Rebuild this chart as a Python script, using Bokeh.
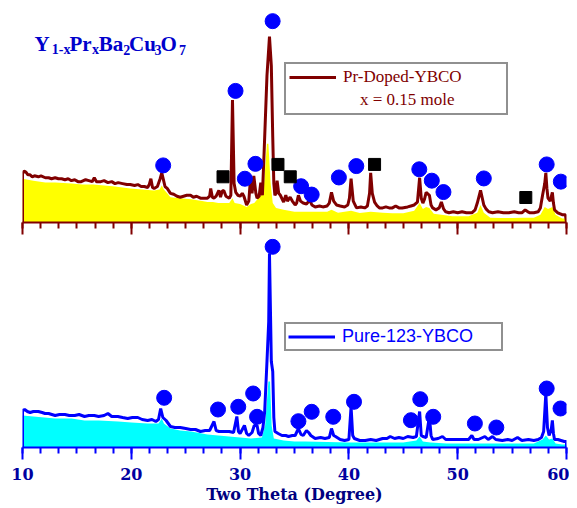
from bokeh.plotting import figure
from bokeh.layouts import column
from bokeh.models import (Range1d, SingleIntervalTicker, Legend, LegendItem, Label,
                          CustomLabelingPolicy)
from bokeh.embed import file_html
from bokeh.resources import INLINE

# ---------------- data (2-theta in degrees, intensity in arbitrary units) ----------------
doped_x = [10.0, 10.0, 10.15, 10.3, 10.5, 10.7, 10.9, 11.1, 11.46, 11.7, 12.1, 12.4, 12.67, 13.0, 13.3,
           13.6, 13.9, 14.2, 14.5, 14.8, 15.1, 15.4, 15.8, 16.1, 16.4, 16.6, 16.8, 17.2, 17.5, 17.85,
           18.2, 18.5, 18.8, 19.2, 19.6, 19.9, 20.3, 20.6, 20.9, 21.2, 21.5, 21.65, 21.8, 21.95, 22.1,
           22.4, 22.65, 22.8, 22.95, 23.1, 23.3, 23.6, 23.9, 24.2, 24.5, 24.8, 25.1, 25.45, 25.7, 26.0,
           26.36, 26.7, 27.0, 27.2, 27.3, 27.45, 27.6, 27.8, 28.05, 28.2, 28.35, 28.5, 28.7, 29.0, 29.15,
           29.3, 29.45, 29.6, 29.8, 30.0, 30.2, 30.35, 30.6, 30.8, 30.96, 31.1, 31.26, 31.45, 31.56, 31.75,
           31.9, 32.05, 32.2, 32.47, 32.7, 32.87, 33.0, 33.1, 33.2, 33.3, 33.4, 33.55, 33.7, 34.0, 34.2,
           34.35, 34.6, 34.8, 35.06, 35.2, 35.36, 35.55, 35.8, 36.1, 36.4, 36.6, 36.9, 37.3, 37.6, 38.0,
           38.2, 38.4, 38.6, 38.86, 39.2, 39.6, 39.9, 40.05, 40.2, 40.4, 40.7, 41.1, 41.45, 41.7, 41.9,
           42.0, 42.15, 42.36, 42.6, 42.8, 43.1, 43.4, 43.7, 44.0, 44.3, 44.6, 44.9, 45.4, 45.7, 46.0,
           46.3, 46.5, 46.65, 46.8, 46.95, 47.1, 47.4, 47.55, 47.7, 48.0, 48.3, 48.5, 48.7, 48.9, 49.2,
           49.6, 50.0, 50.4, 50.8, 51.3, 51.6, 51.8, 52.1, 52.4, 52.6, 52.86, 53.2, 53.7, 54.2, 54.7,
           55.2, 55.6, 55.9, 56.2, 56.45, 56.65, 57.0, 57.4, 57.6, 57.8, 58.0, 58.1, 58.2, 58.3, 58.5,
           58.7, 58.8, 58.9, 59.2, 59.6, 59.9, 60.0]
doped_y = [0, 50, 53, 52, 49, 49, 47, 48, 47, 48, 46, 46, 45, 46, 45,
           45, 44, 45, 43, 44, 42, 42, 44, 43, 42, 46, 42, 42, 43, 41,
           42, 40, 41, 40, 39, 39, 38, 39, 37, 37, 36, 39, 45, 36, 35,
           37, 45, 51, 44, 37, 35, 30, 29, 27, 26, 27, 28, 28, 26, 27,
           25, 25, 25, 27, 35, 26, 25, 27, 33, 26, 32, 33, 27, 25, 28,
           126, 40, 31, 28, 27, 30, 27, 18, 22, 46, 30, 48, 30, 25, 27,
           41, 28, 70, 151, 191, 161, 88, 40, 28, 30, 43, 30, 28, 21, 28,
           22, 26, 22, 18, 20, 28, 22, 20, 19, 23, 18, 16, 17, 16, 17,
           20, 31, 22, 18, 17, 16, 18, 25, 45, 22, 15, 16, 15, 17, 30,
           51, 30, 21, 17, 15, 15, 16, 15, 15, 17, 15, 15, 16, 17, 18,
           21, 46, 25, 20, 24, 31, 28, 18, 15, 13, 15, 21, 14, 11, 10,
           11, 10, 11, 10, 10, 13, 20, 33, 18, 14, 11, 10, 11, 10, 10,
           11, 10, 10, 13, 11, 10, 10, 11, 15, 28, 40, 51, 35, 25, 22,
           31, 20, 13, 10, 8, 8, 0]

doped_fill_x = [10.0, 10.5, 11.0, 12.1, 13.0, 14.5, 15.5, 16.5, 17.5, 18.5, 19.9, 21.0, 22.1, 22.6, 22.8,
                23.0, 23.3, 23.6, 24.5, 25.5, 26.5, 27.0, 27.5, 28.0, 28.5, 29.0, 29.3, 29.5, 30.0, 30.6,
                31.0, 31.3, 31.9, 32.2, 32.47, 32.6, 32.8, 33.0, 33.3, 34.0, 35.0, 36.0, 37.0, 38.0, 38.4,
                39.0, 40.2, 41.0, 42.0, 43.1, 44.0, 45.0, 46.0, 46.5, 46.8, 47.1, 47.4, 47.8, 48.5, 49.5,
                51.0, 51.8, 52.1, 52.4, 53.0, 54.0, 55.0, 56.0, 57.0, 57.6, 58.0, 58.3, 58.7, 59.0, 59.6,
                60.0]
doped_fill_y = [45, 44, 43, 41, 41, 40, 39, 39, 38, 37, 35, 34, 33, 34, 38,
                34, 30, 26, 25, 24, 22, 21, 21, 20, 20, 20, 25, 20, 19, 16,
                19, 20, 28, 40, 81, 81, 41, 20, 15, 13, 11, 11, 11, 11, 13,
                10, 12, 9.7, 11, 10, 9.5, 9.5, 12, 20, 14, 16, 15, 9, 8, 6.3,
                6.3, 10, 18, 10, 5, 4.7, 4.7, 5, 5, 8, 16, 14, 16, 8, 4,
                4]

doped_circle_x = [22.93, 29.58, 30.44, 31.41, 32.99, 35.61, 36.58, 39.08, 40.68, 46.47, 47.62, 48.69,
                  52.4, 58.18, 59.48]
doped_circle_y = [58.7, 135.3, 45, 60.3, 207, 37.3, 28.7, 46.3, 58, 54.7, 43, 31.3,
                  45.3, 59.7, 42]
doped_square_x = [28.43, 33.48, 34.61, 42.36, 56.26]
doped_square_y = [47, 59.7, 47, 59.7, 25.7]

pure_x = [10.0, 10.0, 10.2, 10.45, 10.7, 11.0, 11.46, 11.8, 12.07, 12.4, 13.0, 13.4, 13.9, 14.3, 14.8,
          15.2, 15.7, 16.1, 16.6, 17.0, 17.5, 17.85, 18.2, 18.76, 19.2, 19.67, 20.1, 20.6, 21.0, 21.5,
          21.9, 22.25, 22.5, 22.7, 22.9, 23.2, 23.6, 24.0, 24.5, 25.0, 25.45, 25.9, 26.36, 26.8, 27.2,
          27.6, 27.8, 28.06, 28.5, 29.0, 29.4, 29.7, 29.85, 30.0, 30.4, 30.6, 30.8, 31.1, 31.3, 31.56,
          31.7, 31.9, 32.1, 32.26, 32.47, 32.63, 32.7, 32.8, 32.87, 33.0, 33.1, 33.2, 33.5, 33.85, 34.2,
          34.45, 34.8, 35.06, 35.36, 35.6, 35.8, 36.1, 36.3, 36.5, 36.9, 37.4, 37.8, 38.2, 38.4, 38.6,
          38.77, 39.2, 39.6, 40.0, 40.2, 40.35, 40.5, 41.0, 41.5, 42.0, 42.5, 43.1, 43.5, 43.8, 44.2,
          44.6, 45.0, 45.4, 45.9, 46.2, 46.5, 46.65, 46.8, 47.1, 47.4, 47.55, 47.7, 48.2, 48.6, 48.9,
          49.5, 50.0, 50.5, 51.0, 51.3, 51.5, 51.9, 52.5, 52.8, 53.2, 53.5, 54.1, 54.6, 55.0, 55.5,
          55.9, 56.5, 57.0, 57.4, 57.7, 57.9, 58.1, 58.25, 58.4, 58.6, 58.7, 58.8, 58.9, 59.2, 59.5,
          59.8, 60.0, 60.0]
pure_y = [0, 37, 38, 36, 35, 36, 36, 35, 34, 34, 32, 33, 33, 32, 32,
          33, 31, 32, 32, 31, 32, 34, 31, 31, 30, 29, 30, 30, 28, 27,
          28, 26, 28, 39, 30, 27, 21, 20, 20, 19, 18, 18, 16, 17, 17,
          26, 17, 16, 16, 16, 15, 31, 16, 14, 22, 14, 12, 15, 22, 22,
          14, 12, 20, 36, 86, 126, 194, 130, 86, 76, 30, 16, 14, 12, 12,
          11, 12, 12, 19, 13, 12, 17, 15, 12, 9, 10, 9, 10, 19, 12,
          11, 8, 7, 8, 41, 12, 9, 7, 7, 8, 7, 9, 9, 11, 9,
          10, 9, 11, 10, 11, 36, 12, 11, 10, 31, 12, 8, 9, 11, 8,
          8, 8, 8, 8, 12, 8, 8, 11, 8, 11, 8, 7, 8, 7, 10,
          7, 8, 7, 8, 10, 16, 54, 20, 12, 18, 27, 14, 8, 8, 7,
          6, 6, 0]

pure_fill_x = [10.0, 11.0, 12.0, 13.0, 14.5, 15.7, 17.0, 18.8, 20.0, 21.5, 22.5, 22.8, 23.0, 23.6, 24.5,
               25.5, 27.0, 28.0, 29.0, 30.0, 31.0, 32.0, 32.3, 32.6, 32.75, 32.9, 33.1, 34.0, 35.0, 36.0,
               38.0, 40.0, 42.0, 43.1, 45.0, 46.2, 46.5, 46.8, 47.5, 49.0, 51.0, 53.0, 55.0, 57.0, 57.8,
               58.1, 58.4, 58.7, 59.0, 59.6, 60.0]
pure_fill_y = [32, 31, 30, 29, 29, 27, 27, 26, 25, 24, 24, 29, 24, 19, 17,
               16, 13, 12, 11, 10, 9, 10, 22, 66, 66, 22, 9, 7, 6, 6,
               5.5, 5, 5, 5, 5, 7, 11, 6, 5, 4, 4, 4, 4, 4, 8,
               12, 8, 9, 4, 3, 3]

pure_circle_x = [23.02, 27.97, 29.83, 31.2, 31.56, 32.99, 35.36, 36.58, 38.56, 40.47, 45.7, 46.56,
                 47.75, 51.58, 53.55, 58.18, 59.45]
pure_circle_y = [49.7, 38, 40.7, 54, 30.7, 200.7, 26.3, 35.7, 30.7, 45.7, 27.3, 48.3,
                 30.7, 24, 20, 59, 39]

x_start, x_end, x_step = 10, 60, 10
doped_label = "Pr-Doped-YBCO"
doped_note = "x = 0.15 mole"
pure_label = "Pure-123-YBCO"
x_title = "Two Theta (Degree)"
formula_parts = [("Y", False), ("1-x", True), ("Pr", False), ("x", True), ("Ba", False), ("2", True),
                 ("Cu", False), ("3", True), ("O", False), ("7", True)]

# ---------------- styling ----------------
W = 569
MAROON = "#800000"
BLUE = "#0000FF"


def base_fig(height, ymax, border_top, border_bottom):
    p = figure(width=W, height=height, x_range=Range1d(x_start, x_end), y_range=Range1d(0, ymax),
               output_backend="svg", toolbar_location=None, y_axis_location=None,
               min_border_left=22, min_border_right=3, min_border_top=border_top,
               min_border_bottom=border_bottom)
    p.outline_line_color = None
    p.xgrid.visible = False
    p.ygrid.visible = False
    p.background_fill_color = "white"
    ax = p.xaxis[0]
    ax.ticker = SingleIntervalTicker(interval=x_step, num_minor_ticks=6)
    ax.axis_line_width = 2
    ax.major_tick_line_width = 2
    ax.minor_tick_line_width = 2
    ax.major_tick_in = 0
    ax.minor_tick_in = 0
    ax.major_tick_out = 12
    ax.minor_tick_out = 6
    return p


# ---------- top panel (Pr-doped) ----------
top = base_fig(238, 220, 8, 13)
ax = top.xaxis[0]
ax.axis_line_color = MAROON
ax.major_tick_line_color = MAROON
ax.minor_tick_line_color = MAROON
ax.major_label_standoff = 0
ax.major_label_text_font_size = "1px"
ax.major_label_policy = CustomLabelingPolicy(code="""
    for (const i of Array.from(indices)) { indices.unset(i) }
    return indices
""")

top.varea(x=doped_fill_x, y1=0, y2=doped_fill_y, fill_color="#FFFF00")
doped_line = top.line(doped_x, doped_y, line_color=MAROON, line_width=3)
top.scatter(doped_circle_x, doped_circle_y, marker="circle", size=15,
            fill_color=BLUE, line_color=BLUE)
top.scatter(doped_square_x, doped_square_y, marker="square", size=12,
            fill_color="black", line_color="black")

leg_top = Legend(items=[LegendItem(label=doped_label, renderers=[doped_line]),
                        LegendItem(label="\u00a0\u00a0\u00a0\u00a0" + doped_note, renderers=[])],
                 location=(262, 107), margin=0, padding=3, spacing=3,
                 glyph_width=47, glyph_height=18, label_height=18, label_width=160,
                 label_standoff=7, label_text_font="Liberation Serif",
                 label_text_font_size="17px", label_text_color=MAROON,
                 border_line_color="#222222", border_line_width=2,
                 background_fill_color="white", background_fill_alpha=1)
top.add_layout(leg_top, "center")

# chemical formula Y(1-x)Pr(x)Ba2Cu3O7
fx = [12.0, 29.3, 47.0, 69.4, 76.3, 100.7, 106.6, 132.0, 137.9, 156.5]
for (txt, sub), xx in zip(formula_parts, fx):
    top.add_layout(Label(x=xx, y=173 if sub else 179, x_units="screen", y_units="screen",
                         text=txt, text_font="Liberation Serif", text_font_style="bold",
                         text_font_size="14px" if sub else "21px", text_color="#0000CC",
                         text_baseline="alphabetic"))

# ---------- bottom panel (pure) ----------
bot = base_fig(268, 209, 0, 59)
ax = bot.xaxis[0]
ax.axis_line_color = BLUE
ax.major_tick_line_color = BLUE
ax.minor_tick_line_color = BLUE
ax.major_label_text_font = "DejaVu Serif"
ax.major_label_text_font_style = "bold"
ax.major_label_text_font_size = "16px"
ax.major_label_text_color = "#0000A0"
ax.major_label_standoff = 8
ax.axis_label = x_title
ax.axis_label_text_font = "DejaVu Serif"
ax.axis_label_text_font_style = "bold"
ax.axis_label_text_font_size = "16px"
ax.axis_label_text_color = "#000080"
ax.axis_label_standoff = 2

bot.varea(x=pure_fill_x, y1=0, y2=pure_fill_y, fill_color="#00FFFF")
pure_line = bot.line(pure_x, pure_y, line_color=BLUE, line_width=3)
bot.scatter(pure_circle_x, pure_circle_y, marker="circle", size=15,
            fill_color=BLUE, line_color=BLUE)

leg_bot = Legend(items=[LegendItem(label=pure_label, renderers=[pure_line])],
                 location=(262, 96), margin=0, padding=2, spacing=0,
                 glyph_width=47, glyph_height=19, label_height=19, label_width=157,
                 label_standoff=7, label_text_font="Liberation Sans",
                 label_text_font_size="18px", label_text_color=BLUE,
                 border_line_color="#222222", border_line_width=2,
                 background_fill_color="white", background_fill_alpha=1)
bot.add_layout(leg_bot, "center")

layout = column(top, bot, spacing=0)
open("out.html", "w").write(file_html(layout, INLINE))
